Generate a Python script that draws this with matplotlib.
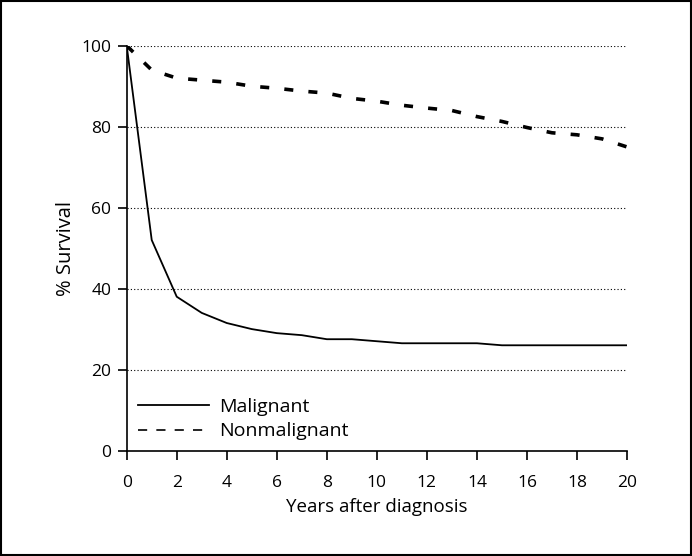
import matplotlib.pyplot as plt
from matplotlib.lines import Line2D
from matplotlib.patches import Rectangle

plt.rcParams['font.family'] = ['Open Sans', 'DejaVu Sans']

# survival data
years = list(range(0, 21))
malignant = [100, 52, 38, 34, 31.5, 30, 29, 28.5, 27.5, 27.5, 27,
             26.5, 26.5, 26.5, 26.5, 26, 26, 26, 26, 26, 26]
nonmalignant = [100, 94, 92, 91.5, 91, 90, 89.5, 88.8, 88.3, 87, 86.3,
                85.3, 84.6, 84, 82.5, 81.3, 79.8, 78.5, 78, 77, 75]

x_ticks = [0, 2, 4, 6, 8, 10, 12, 14, 16, 18, 20]
y_ticks = [0, 20, 40, 60, 80, 100]

fig = plt.figure(figsize=(6.92, 5.56), dpi=100)
ax = fig.add_axes([0.1831, 0.1897, 0.723, 0.728])

# dotted reference lines
for y in y_ticks[1:]:
    ax.axhline(y, color='black', linestyle=(0, (1, 2)), linewidth=0.8, zorder=1)

ax.plot(years, malignant, color='black', linewidth=1.3, zorder=3)
ax.plot(years, nonmalignant, color='black', linewidth=2.6,
        dashes=(2.5, 4.2), dash_capstyle='butt', zorder=3)

ax.set_xlim(0, 20)
ax.set_ylim(0, 100)
ax.set_xticks(x_ticks)
ax.set_yticks(y_ticks)
ax.tick_params(direction='out', length=6.5, width=1.2, labelsize=12.5)
ax.tick_params(axis='x', pad=11)
ax.tick_params(axis='y', pad=4.5)

for side in ('top', 'right'):
    ax.spines[side].set_visible(False)
for side in ('left', 'bottom'):
    ax.spines[side].set_linewidth(1.2)

ax.set_xlabel('Years after diagnosis', fontsize=13.5, labelpad=5)
ax.set_ylabel('% Survival', fontsize=14.5, labelpad=4)

handles = [
    Line2D([], [], color='black', linewidth=1.3),
    Line2D([], [], color='black', linewidth=1.2, dashes=(5.5, 5.5)),
]
ax.legend(handles, ['Malignant', 'Nonmalignant'], loc='lower left',
          bbox_to_anchor=(0.0226, 0.025), frameon=False, fontsize=14,
          borderpad=0, borderaxespad=0,
          handlelength=3.65, handletextpad=0.5, labelspacing=0.35)

# frame around the whole picture
fig.patches.append(Rectangle((0.0015, 0.002), 0.997, 0.996, transform=fig.transFigure,
                             fill=False, edgecolor='black', linewidth=1.5))

fig.savefig('out.png', dpi=100)
